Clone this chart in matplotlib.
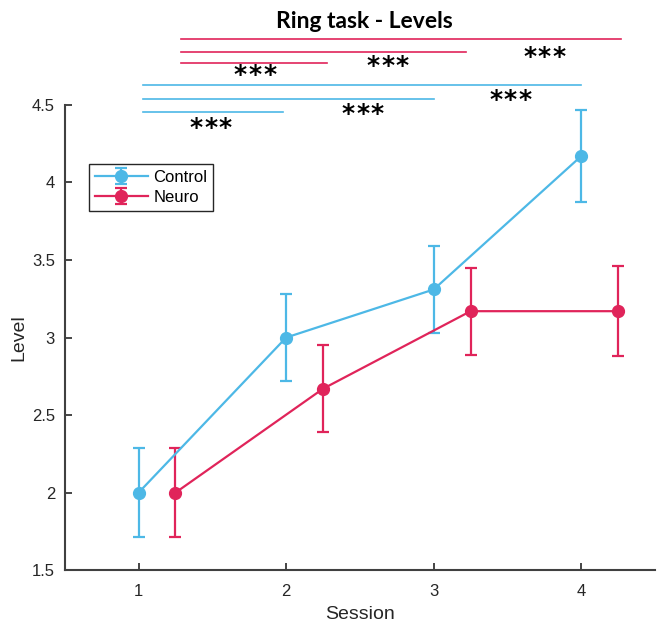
import numpy as np
import matplotlib.pyplot as plt

sessions = [1, 2, 3, 4]
control_mean = [2.0, 3.0, 3.31, 4.17]
control_err = [0.285, 0.28, 0.28, 0.295]
neuro_mean = [2.0, 2.67, 3.17, 3.17]
neuro_err = [0.285, 0.28, 0.28, 0.29]
offset = 0.25

# significance bars: (start, end, height, star x, star y)
control_sig = [(1.03, 1.98, 4.453, 1.49, 4.35),
               (1.03, 3.0, 4.539, 2.52, 4.44),
               (1.03, 4.0, 4.627, 3.52, 4.53)]
neuro_sig = [(1.29, 2.28, 4.768, 1.79, 4.69),
             (1.29, 3.22, 4.839, 2.69, 4.75),
             (1.29, 4.27, 4.925, 3.75, 4.81)]

cyan = '#4DB8E6'
red = '#E0245A'

plt.rcParams['font.family'] = ['Liberation Sans', 'DejaVu Sans']

fig = plt.figure(figsize=(6.61, 6.28), dpi=100)
ax = fig.add_axes([0.098, 0.092, 0.893, 0.741])

ax.errorbar(sessions, control_mean, yerr=control_err, color=cyan, marker='o',
            markersize=8.5, linewidth=1.6, elinewidth=1.6, capsize=4,
            capthick=1.6, label='Control')
ax.errorbar(np.array(sessions) + offset, neuro_mean, yerr=neuro_err, color=red,
            marker='o', markersize=8.5, linewidth=1.6, elinewidth=1.6,
            capsize=4, capthick=1.6, label='Neuro')


def stars(x, y):
    # three asterisks spaced a little apart
    for k in (-1, 0, 1):
        ax.annotate('*', (x, y), xytext=(k * 10.5, 0), textcoords='offset points',
                    ha='center', va='center', fontsize=18, fontweight='bold',
                    family='DejaVu Sans', annotation_clip=False)


for x0, x1, y, sx, sy in control_sig:
    ax.plot([x0, x1], [y, y], color=cyan, linewidth=1.2, clip_on=False)
    stars(sx, sy)
for x0, x1, y, sx, sy in neuro_sig:
    ax.plot([x0, x1], [y, y], color=red, linewidth=1.2, clip_on=False)
    stars(sx, sy)

ax.text(2.53, 5.04, 'Ring task - Levels', ha='center', va='center',
        fontsize=16.5, fontweight='bold', family='Lato')

ax.set_xlim(0.5, 4.5)
ax.set_ylim(1.5, 4.5)
ax.set_xticks(sessions)
ax.set_yticks([1.5, 2, 2.5, 3, 3.5, 4, 4.5])
ax.set_yticklabels(['1.5', '2', '2.5', '3', '3.5', '4', '4.5'])
ax.set_xlabel('Session', fontsize=14, color='#262626', labelpad=5)
ax.set_ylabel('Level', fontsize=14, color='#262626', labelpad=3)
ax.tick_params(direction='in', length=5, labelsize=12, colors='#262626',
               width=1.2)
ax.tick_params(axis='x', pad=10)
ax.tick_params(axis='y', pad=7)
for side in ['top', 'right']:
    ax.spines[side].set_visible(False)
for side in ['left', 'bottom']:
    ax.spines[side].set_color('#404040')
    ax.spines[side].set_linewidth(1.5)

leg = ax.legend(loc='upper left', bbox_to_anchor=(0.041, 0.873), fontsize=12,
                fancybox=False, edgecolor='#262626', framealpha=1,
                handlelength=3.2, borderpad=0.35, labelspacing=0.3,
                handletextpad=0.3, borderaxespad=0)
leg.get_frame().set_linewidth(1.0)

fig.savefig('out.png', dpi=100)
